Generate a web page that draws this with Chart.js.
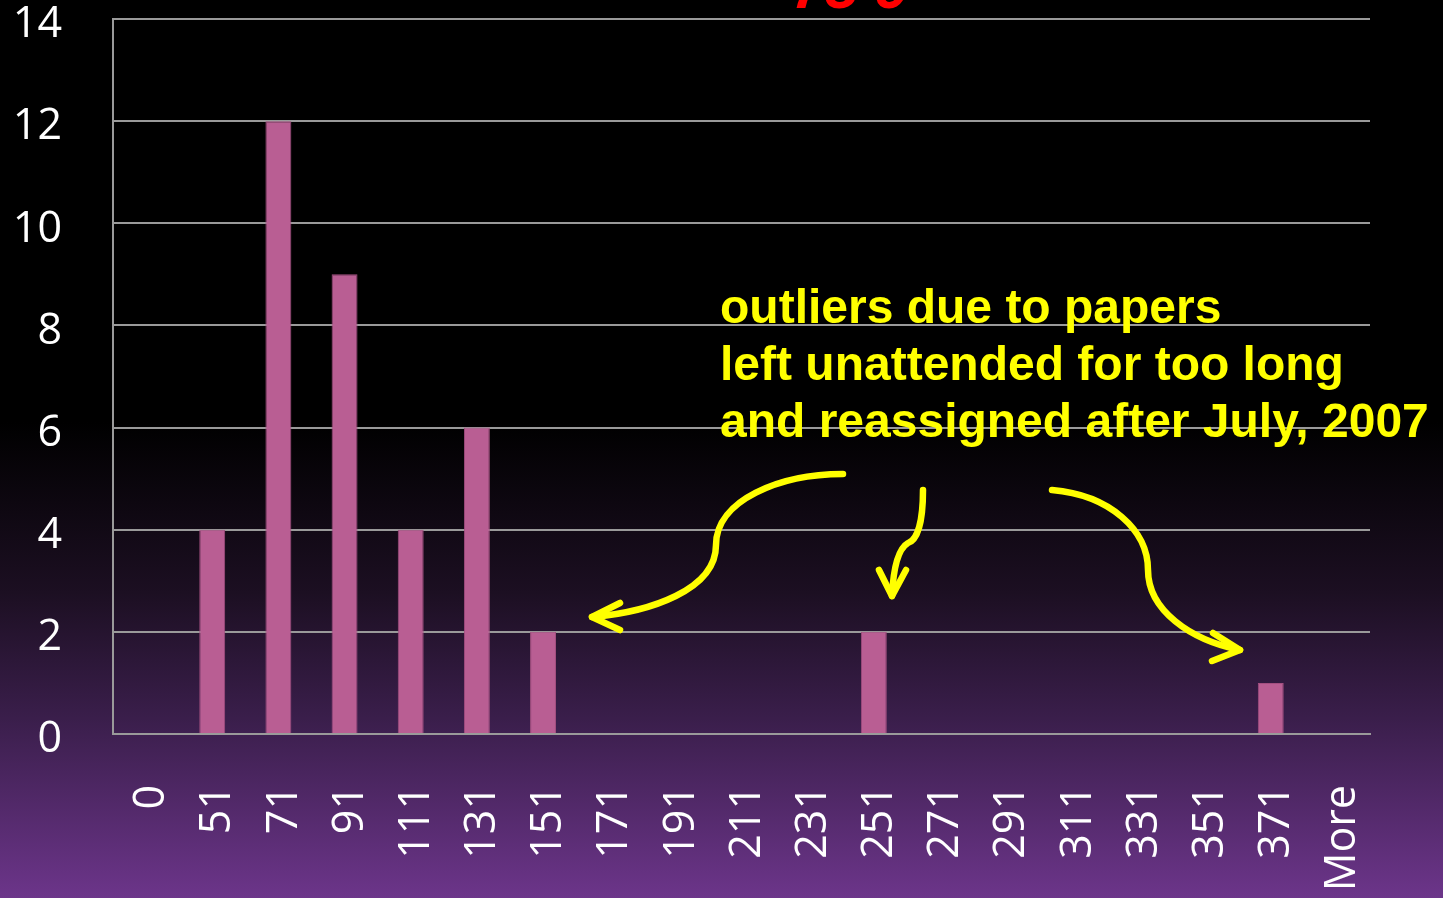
<!DOCTYPE html>
<html>
<head>
<meta charset="utf-8">
<script src="https://cdn.jsdelivr.net/npm/chart.js@4"></script>
<style>
	html, body { margin: 0; padding: 0; }
	body {
		width: 1443px;
		height: 898px;
		overflow: hidden;
		background: linear-gradient(to bottom, #000 0%, #000 47%, #1c0f22 66%, #3a1e4b 80%, #6c358a 100%);
	}
	#wrap { position: relative; width: 1443px; height: 898px; }
</style>
</head>
<body>
<div id="wrap"><canvas id="hist"></canvas></div>
<script>
(function() {
	'use strict';

	// histogram bins (days) and how many papers fell in each
	var binLabels = ['0', '51', '71', '91', '111', '131', '151', '171', '191', '211',
		'231', '251', '271', '291', '311', '331', '351', '371', 'More'];
	var frequency = [0, 4, 12, 9, 4, 6, 2, 0, 0, 0, 0, 2, 0, 0, 0, 0, 0, 1, 0];
	var yTicks = [0, 2, 4, 6, 8, 10, 12, 14];

	var noteLines = [
		'outliers due to papers',
		'left unattended for too long',
		'and reassigned after July, 2007'
	];
	var headText = '75 9';

	var tickFont = { family: "'Open Sans', 'Noto Sans', sans-serif", size: 43 };

	// yellow callout text + hand-drawn arrows, and the clipped red heading
	var notesPlugin = {
		id: 'notes',
		afterDraw: function(chart) {
			var ctx = chart.ctx;
			ctx.save();

			ctx.fillStyle = '#ff0000';
			ctx.font = "italic bold 60px 'Liberation Sans', Arial, sans-serif";
			ctx.textAlign = 'center';
			ctx.textBaseline = 'alphabetic';
			ctx.fillText(headText, 850, 8);

			ctx.fillStyle = '#ffff00';
			ctx.font = "bold 48px 'Liberation Sans', Arial, sans-serif";
			ctx.textAlign = 'left';
			noteLines.forEach(function(line, i) {
				ctx.fillText(line, 720, 323 + i * 57);
			});

			ctx.strokeStyle = '#ffff00';
			ctx.lineWidth = 6.5;
			ctx.lineCap = 'round';
			ctx.lineJoin = 'round';

			// arrow to the 151 bin
			ctx.beginPath();
			ctx.moveTo(843, 474);
			ctx.bezierCurveTo(780, 474, 716, 500, 716, 545);
			ctx.bezierCurveTo(716, 590, 650, 612, 592, 617);
			ctx.stroke();
			ctx.beginPath();
			ctx.moveTo(620, 603);
			ctx.lineTo(592, 617);
			ctx.lineTo(620, 630);
			ctx.stroke();

			// arrow to the 251 bin
			ctx.beginPath();
			ctx.moveTo(923, 490);
			ctx.bezierCurveTo(923, 520, 918, 540, 908, 543);
			ctx.bezierCurveTo(896, 550, 893, 575, 892, 596);
			ctx.stroke();
			ctx.beginPath();
			ctx.moveTo(879, 570);
			ctx.lineTo(892, 596);
			ctx.lineTo(906, 570);
			ctx.stroke();

			// arrow to the 371 bin
			ctx.beginPath();
			ctx.moveTo(1052, 490);
			ctx.bezierCurveTo(1110, 495, 1148, 530, 1148, 570);
			ctx.bezierCurveTo(1148, 610, 1190, 640, 1240, 650);
			ctx.stroke();
			ctx.beginPath();
			ctx.moveTo(1213, 633);
			ctx.lineTo(1240, 650);
			ctx.lineTo(1212, 661);
			ctx.stroke();

			ctx.restore();
		}
	};

	var canvas = document.getElementById('hist');
	var ctx = canvas.getContext('2d');
	new Chart(ctx, {
		type: 'bar',
		data: {
			labels: binLabels,
			datasets: [{
				label: 'Frequency',
				data: frequency,
				backgroundColor: '#b95e93',
				borderColor: '#a34f80',
				borderWidth: 1,
				barPercentage: 0.8,
				categoryPercentage: 0.49
			}]
		},
		plugins: [notesPlugin],
		options: {
			responsive: true,
			maintainAspectRatio: false,
			animation: false,
			layout: {
				padding: { top: 19, right: 73, left: 0, bottom: 0 }
			},
			plugins: {
				legend: { display: false },
				tooltip: { enabled: false }
			},
			scales: {
				x: {
					afterFit: function(scale) {
						scale.height = 164;
						scale.paddingLeft = 0;
						scale.paddingRight = 0;
					},
					grid: { display: false, drawTicks: false },
					border: { display: true, color: '#9a9a9a', width: 2 },
					ticks: {
						color: '#ffffff',
						font: tickFont,
						minRotation: 90,
						maxRotation: 90,
						autoSkip: false,
						padding: 51,
						labelOffset: 6
					}
				},
				y: {
					min: 0,
					max: 14,
					afterFit: function(scale) {
						scale.width = 113;
						scale.paddingTop = 0;
						scale.paddingBottom = 0;
					},
					afterBuildTicks: function(scale) {
						scale.ticks = yTicks.map(function(v) { return { value: v }; });
					},
					grid: { color: '#9a9a9a', lineWidth: 2, drawTicks: false },
					border: { display: true, color: '#9a9a9a', width: 2 },
					ticks: {
						color: '#ffffff',
						font: tickFont,
						padding: 51,
						labelOffset: 6
					}
				}
			}
		}
	});
})();
</script>
</body>
</html>
